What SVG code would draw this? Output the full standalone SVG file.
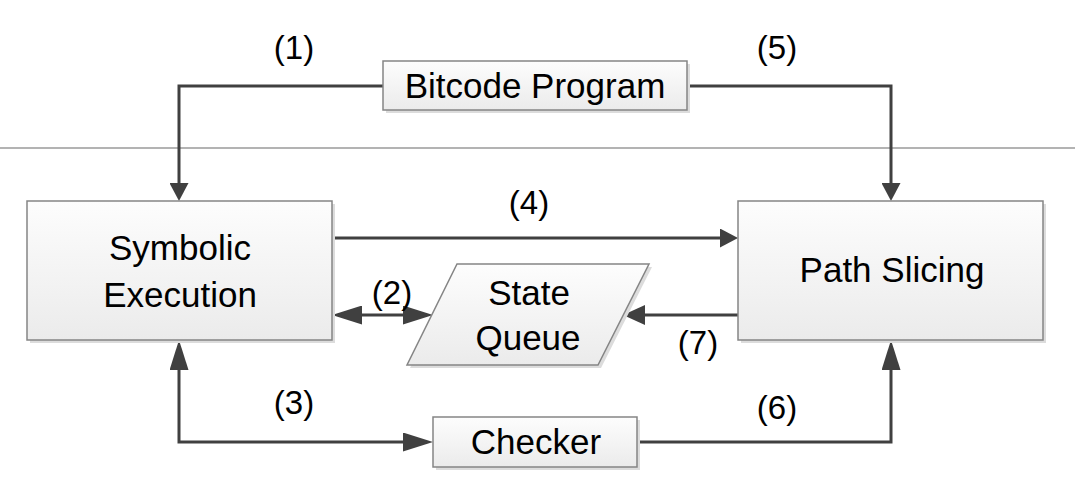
<svg xmlns="http://www.w3.org/2000/svg" width="1075" height="497" viewBox="0 0 1075 497">
<style>
.box{fill:url(#g);stroke:#858585;stroke-width:1.5}
.sh{fill:#dcdcdc}
.t{font-family:"Liberation Sans",Arial,sans-serif;font-size:35px;fill:#000;text-anchor:middle}
.lbl{font-family:"Liberation Sans",Arial,sans-serif;font-size:33px;fill:#000;text-anchor:middle}
.c{fill:none;stroke:#404040;stroke-width:3}
</style>
<defs>
<linearGradient id="g" x1="0" y1="0" x2="0" y2="1">
<stop offset="0" stop-color="#fdfdfd"/>
<stop offset="1" stop-color="#ebebeb"/>
</linearGradient>
<marker id="as" viewBox="0 0 18 19" markerUnits="userSpaceOnUse" markerWidth="18" markerHeight="19" refX="12" refY="9.5" orient="auto-start-reverse"><path d="M0,0 L18,9.5 L0,19 z" fill="#404040"/></marker>
<marker id="am" viewBox="0 0 22 20" markerUnits="userSpaceOnUse" markerWidth="22" markerHeight="20" refX="16" refY="10" orient="auto-start-reverse"><path d="M0,0 L22,10 L0,20 z" fill="#404040"/></marker>
<marker id="al" viewBox="0 0 30 19" markerUnits="userSpaceOnUse" markerWidth="30" markerHeight="19" refX="24" refY="9.5" orient="auto-start-reverse"><path d="M0,0 L30,9.5 L0,19 z" fill="#404040"/></marker>
</defs>
<rect width="1075" height="497" fill="#fff"/>
<line x1="0" y1="148" x2="1075" y2="148" stroke="#9a9a9a" stroke-width="1.5"/>
<g id="connectors">
<path class="c" d="M383,86 H179 V195" marker-end="url(#as)"/>
<path class="c" d="M687,86 H891 V195" marker-end="url(#as)"/>
<path class="c" d="M332,238 H732" marker-end="url(#as)"/>
<path class="c" d="M338,315 H427" marker-start="url(#al)" marker-end="url(#al)"/>
<path class="c" d="M738,315 H629" marker-end="url(#am)"/>
<path class="c" d="M179,346 V442 H427" marker-start="url(#al)" marker-end="url(#al)"/>
<path class="c" d="M637,442 H891 V346" marker-end="url(#al)"/>
<text class="lbl" x="294" y="59">(1)</text>
<text class="lbl" x="777" y="59">(5)</text>
<text class="lbl" x="529" y="214">(4)</text>
<text class="lbl" x="392" y="304">(2)</text>
<text class="lbl" x="698" y="354">(7)</text>
<text class="lbl" x="294" y="414">(3)</text>
<text class="lbl" x="777" y="419">(6)</text>
</g>
<g id="bitcode">
<rect class="sh" x="386" y="64" width="304" height="49"/>
<rect class="box" x="383" y="61" width="304" height="49"/>
<text class="t" x="535" y="98">Bitcode Program</text>
</g>
<g id="symbolic">
<rect class="sh" x="30" y="204" width="305" height="139"/>
<rect class="box" x="27" y="201" width="305" height="139"/>
<text class="t" x="180" y="260">Symbolic</text>
<text class="t" x="180" y="307">Execution</text>
</g>
<g id="pathslicing">
<rect class="sh" x="741" y="204" width="305" height="139"/>
<rect class="box" x="738" y="201" width="305" height="139"/>
<text class="t" x="892" y="282">Path Slicing</text>
</g>
<g id="statequeue">
<path class="sh" d="M460,267 H652 L601,368 H410 z"/>
<path class="box" d="M457,264 H649 L598,365 H407 z"/>
<text class="t" x="529" y="305">State</text>
<text class="t" x="528" y="350">Queue</text>
</g>
<g id="checker">
<rect class="sh" x="436" y="420" width="204" height="50"/>
<rect class="box" x="433" y="417" width="204" height="50"/>
<text class="t" x="536" y="454">Checker</text>
</g>
</svg>
